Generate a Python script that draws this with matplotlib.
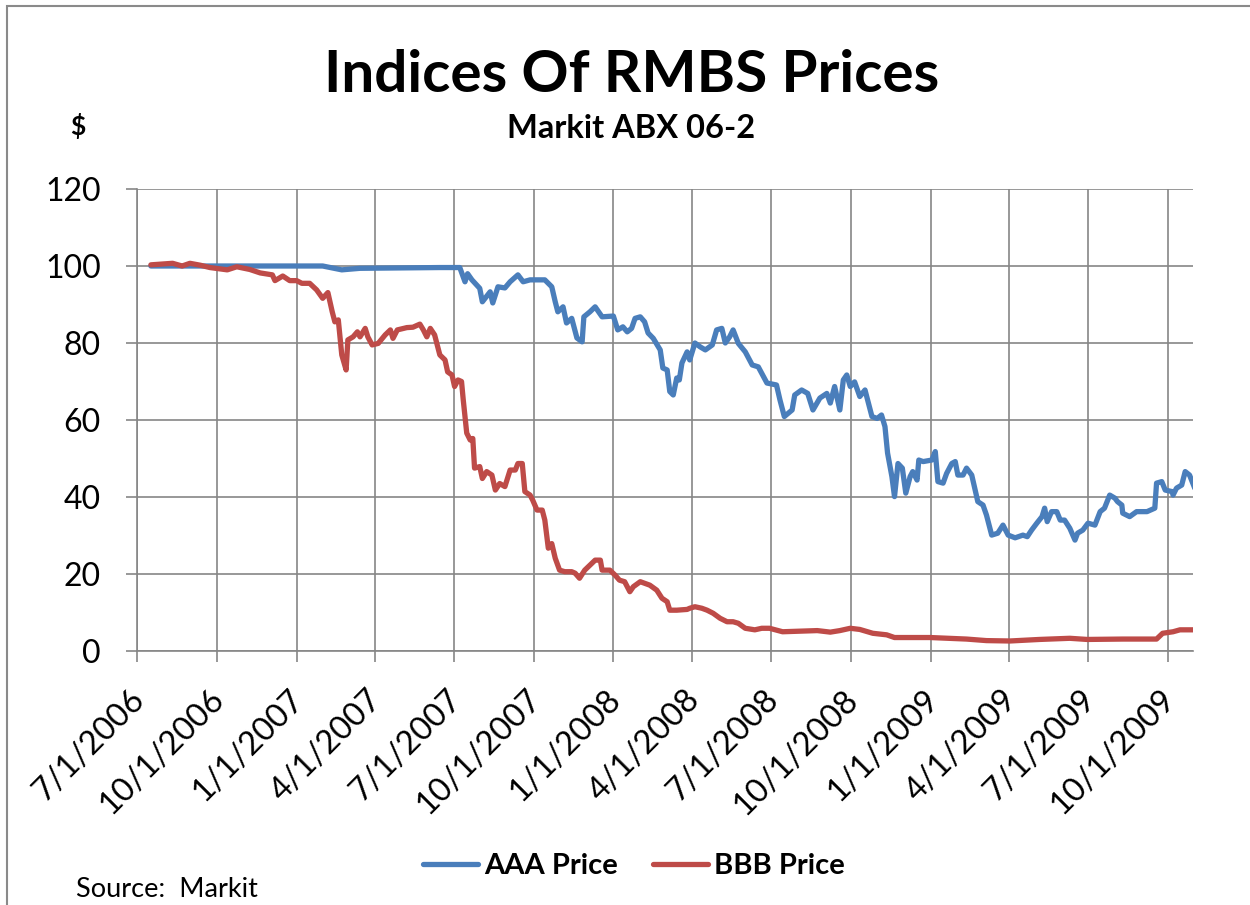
import datetime as dt
import matplotlib
matplotlib.use("Agg")
import matplotlib.pyplot as plt
import matplotlib.transforms as mtrans
from matplotlib.patches import Rectangle

plt.rcParams['font.family'] = ['Lato', 'DejaVu Sans']

# Markit ABX 06-2
aaa_dates = ["2006-07-17", "2007-01-31", "2007-02-22", "2007-03-15", "2007-04-30", "2007-06-15",
             "2007-07-08", "2007-07-14", "2007-07-17", "2007-07-22", "2007-07-31", "2007-08-03",
             "2007-08-12", "2007-08-15", "2007-08-21", "2007-08-29", "2007-09-04", "2007-09-13",
             "2007-09-19", "2007-09-27", "2007-10-14", "2007-10-22", "2007-10-26", "2007-10-29",
             "2007-11-04", "2007-11-08", "2007-11-14", "2007-11-20", "2007-11-26", "2007-11-28",
             "2007-12-05", "2007-12-11", "2007-12-19", "2008-01-01", "2008-01-06", "2008-01-12",
             "2008-01-17", "2008-01-22", "2008-01-26", "2008-02-01", "2008-02-06", "2008-02-10",
             "2008-02-16", "2008-02-24", "2008-02-27", "2008-03-03", "2008-03-06", "2008-03-10",
             "2008-03-14", "2008-03-17", "2008-03-20", "2008-03-26", "2008-03-29", "2008-04-04",
             "2008-04-10", "2008-04-16", "2008-04-24", "2008-04-29", "2008-05-05", "2008-05-09",
             "2008-05-14", "2008-05-18", "2008-05-24", "2008-06-01", "2008-06-09", "2008-06-16",
             "2008-06-20", "2008-06-26", "2008-07-07", "2008-07-11", "2008-07-16", "2008-07-25",
             "2008-07-28", "2008-08-05", "2008-08-12", "2008-08-18", "2008-08-26", "2008-09-03",
             "2008-09-07", "2008-09-12", "2008-09-18", "2008-09-22", "2008-09-26", "2008-09-30",
             "2008-10-05", "2008-10-11", "2008-10-17", "2008-10-20", "2008-10-25", "2008-10-31",
             "2008-11-05", "2008-11-09", "2008-11-12", "2008-11-17", "2008-11-20", "2008-11-24",
             "2008-11-29", "2008-12-03", "2008-12-08", "2008-12-11", "2008-12-16", "2008-12-18",
             "2008-12-23", "2009-01-02", "2009-01-06", "2009-01-09", "2009-01-15", "2009-01-19",
             "2009-01-25", "2009-01-29", "2009-02-01", "2009-02-07", "2009-02-11", "2009-02-17",
             "2009-02-24", "2009-03-02", "2009-03-06", "2009-03-12", "2009-03-19", "2009-03-25",
             "2009-03-31", "2009-04-08", "2009-04-17", "2009-04-22", "2009-04-27", "2009-05-03",
             "2009-05-09", "2009-05-12", "2009-05-15", "2009-05-20", "2009-05-26", "2009-05-30",
             "2009-06-04", "2009-06-10", "2009-06-16", "2009-06-19", "2009-06-25", "2009-07-01",
             "2009-07-09", "2009-07-15", "2009-07-20", "2009-07-26", "2009-08-01", "2009-08-04",
             "2009-08-09", "2009-08-10", "2009-08-18", "2009-08-26", "2009-09-07", "2009-09-16",
             "2009-09-18", "2009-09-24", "2009-09-28", "2009-10-06", "2009-10-07", "2009-10-11",
             "2009-10-17", "2009-10-21", "2009-10-26", "2009-11-01"]
aaa_price = [100.0, 100.0, 99.0, 99.4, 99.5, 99.6,
             99.6, 95.9, 98.0, 96.4, 94.2, 90.7,
             93.3, 90.4, 94.6, 94.3, 95.9, 97.7,
             95.9, 96.4, 96.4, 94.6, 90.7, 88.1,
             89.4, 85.2, 86.4, 81.3, 80.3, 86.8,
             88.1, 89.4, 86.8, 87.0, 83.4, 84.2,
             82.9, 83.8, 86.4, 86.8, 85.5, 82.6,
             81.2, 78.2, 73.5, 73.0, 67.4, 66.5,
             70.9, 70.4, 74.8, 77.7, 75.6, 80.0,
             79.0, 78.2, 79.5, 83.4, 83.8, 80.0,
             81.6, 83.4, 79.9, 77.7, 74.3, 73.8,
             72.1, 69.6, 69.1, 65.2, 60.9, 62.6,
             66.5, 67.8, 66.9, 62.6, 65.7, 66.9,
             64.4, 68.7, 62.6, 70.4, 71.7, 68.7,
             69.9, 66.1, 67.8, 65.2, 60.9, 60.4,
             61.3, 58.3, 51.4, 45.3, 40.1, 48.7,
             47.5, 41.0, 45.3, 46.6, 44.4, 49.6,
             49.2, 49.6, 51.8, 44.0, 43.6, 46.1,
             48.7, 49.2, 45.7, 45.7, 47.5, 45.7,
             38.8, 37.9, 35.3, 30.1, 30.6, 32.7,
             30.1, 29.4, 30.1, 29.7, 31.4, 33.2,
             34.9, 37.1, 33.6, 36.2, 36.2, 34.0,
             34.0, 31.9, 28.8, 30.6, 31.4, 33.2,
             32.7, 36.2, 37.1, 40.5, 39.7, 38.8,
             37.9, 35.8, 34.9, 36.2, 36.2, 37.1,
             43.6, 44.0, 41.8, 41.4, 40.5, 42.3,
             43.1, 46.6, 45.7, 42.3]

bbb_dates = ["2006-07-17", "2006-08-11", "2006-08-22", "2006-08-31", "2006-09-12", "2006-09-23",
             "2006-10-13", "2006-10-24", "2006-11-08", "2006-11-20", "2006-12-04", "2006-12-07",
             "2006-12-16", "2006-12-24", "2007-01-01", "2007-01-07", "2007-01-16", "2007-01-24",
             "2007-01-31", "2007-02-06", "2007-02-11", "2007-02-14", "2007-02-18", "2007-02-22",
             "2007-02-27", "2007-03-01", "2007-03-07", "2007-03-12", "2007-03-15", "2007-03-21",
             "2007-03-24", "2007-03-29", "2007-04-05", "2007-04-13", "2007-04-19", "2007-04-22",
             "2007-04-27", "2007-05-08", "2007-05-15", "2007-05-23", "2007-05-27", "2007-05-31",
             "2007-06-04", "2007-06-09", "2007-06-15", "2007-06-21", "2007-06-24", "2007-06-29",
             "2007-07-02", "2007-07-06", "2007-07-10", "2007-07-12", "2007-07-16", "2007-07-20",
             "2007-07-23", "2007-07-25", "2007-07-31", "2007-08-03", "2007-08-08", "2007-08-14",
             "2007-08-18", "2007-08-23", "2007-08-29", "2007-09-04", "2007-09-10", "2007-09-13",
             "2007-09-18", "2007-09-21", "2007-09-27", "2007-09-30", "2007-10-05", "2007-10-11",
             "2007-10-14", "2007-10-18", "2007-10-22", "2007-10-26", "2007-10-31", "2007-11-06",
             "2007-11-14", "2007-11-18", "2007-11-23", "2007-11-29", "2007-12-05", "2007-12-11",
             "2007-12-17", "2007-12-19", "2007-12-28", "2008-01-03", "2008-01-08", "2008-01-14",
             "2008-01-20", "2008-01-24", "2008-02-01", "2008-02-12", "2008-02-20", "2008-02-26",
             "2008-03-03", "2008-03-06", "2008-03-14", "2008-03-26", "2008-03-29", "2008-04-04",
             "2008-04-12", "2008-04-18", "2008-04-25", "2008-05-03", "2008-05-11", "2008-05-18",
             "2008-05-24", "2008-06-01", "2008-06-12", "2008-06-20", "2008-06-29", "2008-07-14",
             "2008-08-23", "2008-09-07", "2008-09-18", "2008-09-30", "2008-10-11", "2008-10-26",
             "2008-11-11", "2008-11-20", "2008-12-31", "2009-02-11", "2009-03-06", "2009-04-02",
             "2009-05-06", "2009-06-10", "2009-06-30", "2009-08-10", "2009-09-18", "2009-09-25",
             "2009-10-07", "2009-10-15", "2009-11-01"]
bbb_price = [100.3, 100.7, 100.0, 100.7, 100.2, 99.6,
             99.0, 99.8, 99.1, 98.2, 97.7, 96.2,
             97.4, 96.2, 96.2, 95.5, 95.5, 93.8,
             91.6, 93.1, 88.1, 85.5, 86.0, 76.9,
             73.0, 80.8, 81.6, 82.9, 81.6, 83.8,
             81.6, 79.5, 79.9, 82.1, 83.4, 81.2,
             83.4, 84.0, 84.1, 84.9, 83.4, 81.6,
             83.8, 82.1, 76.9, 75.6, 72.5, 71.7,
             68.7, 70.4, 70.0, 65.2, 56.6, 54.8,
             55.2, 47.5, 47.9, 44.8, 46.6, 45.7,
             41.8, 43.5, 42.7, 47.0, 47.0, 48.7,
             48.7, 41.4, 40.5, 39.2, 36.6, 36.6,
             34.0, 26.7, 27.9, 24.1, 21.0, 20.6,
             20.6, 20.2, 18.9, 21.0, 22.3, 23.6,
             23.6, 21.0, 21.0, 19.7, 18.4, 18.0,
             15.4, 16.7, 18.0, 17.1, 15.8, 13.7,
             12.8, 10.6, 10.6, 10.8, 11.1, 11.5,
             11.1, 10.6, 9.8, 8.5, 7.6, 7.6,
             7.2, 5.9, 5.5, 5.9, 5.9, 5.0,
             5.3, 4.9, 5.3, 5.9, 5.6, 4.6,
             4.2, 3.5, 3.5, 3.1, 2.7, 2.6,
             3.0, 3.3, 3.0, 3.1, 3.1, 4.6,
             5.0, 5.5, 5.5]

tick_dates = ["2006-07-01", "2006-10-01", "2007-01-01", "2007-04-01", "2007-07-01", "2007-10-01",
              "2008-01-01", "2008-04-01", "2008-07-01", "2008-10-01", "2009-01-01", "2009-04-01",
              "2009-07-01", "2009-10-01"]
y_ticks = [0, 20, 40, 60, 80, 100, 120]


def to_dates(lst):
    return [dt.datetime.strptime(s, "%Y-%m-%d") for s in lst]


grid_c = '#868686'

fig = plt.figure(figsize=(12.5, 9.05), dpi=100)
ax = fig.add_axes([137/1250, 1-651/905, (1193-137)/1250, (651-189)/905])

ax.plot(to_dates(aaa_dates), aaa_price, color='#4A7EBB', lw=3.8, label='AAA Price',
        solid_joinstyle='round', solid_capstyle='round', zorder=3)
ax.plot(to_dates(bbb_dates), bbb_price, color='#BE4B48', lw=3.8, label='BBB Price',
        solid_joinstyle='round', solid_capstyle='round', zorder=4)

ax.set_ylim(0, 120)
ax.set_yticks(y_ticks)
ticks = to_dates(tick_dates)
ax.set_xlim(ticks[0], dt.datetime(2009, 10, 30))
ax.set_xticks(ticks)
ax.set_xticklabels([f"{d.month}/{d.day}/{d.year}" for d in ticks])

ax.grid(True, color=grid_c, lw=1.2)
ax.set_axisbelow(True)
for s in ['top', 'right']:
    ax.spines[s].set_visible(False)
for s in ['left', 'bottom']:
    ax.spines[s].set_color(grid_c)
    ax.spines[s].set_linewidth(1.2)
ax.tick_params(axis='both', direction='out', length=8, width=1.2, color=grid_c)
ax.tick_params(axis='y', labelsize=23, pad=18)
ax.tick_params(axis='x', labelsize=23.5, pad=16)
shift = mtrans.ScaledTranslation(-8/100, 0, fig.dpi_scale_trans)
for lab in ax.get_xticklabels():
    lab.set_rotation(45)
    lab.set_ha('right')
    lab.set_va('top')
    lab.set_rotation_mode('anchor')
    lab.set_transform(lab.get_transform() + shift)

fig.text(632/1250, 1-92/905, 'Indices Of RMBS Prices', ha='center', va='baseline',
         fontsize=42, fontweight='bold')
fig.text(631/1250, 1-138/905, 'Markit ABX 06-2', ha='center', va='baseline',
         fontsize=23.5, fontweight='bold')
fig.text(70/1250, 1-135/905, '$', ha='left', va='baseline', fontsize=19, fontweight='bold')
fig.text(76/1250, 1-897/905, 'Source:  Markit', ha='left', va='baseline', fontsize=19.5)

fig.legend(loc='center', bbox_to_anchor=(634/1250, 1-866/905), ncol=2, frameon=False,
           prop={'size': 21, 'weight': 'bold'}, handlelength=1.9, handletextpad=0.2,
           columnspacing=1.2)

fig.add_artist(Rectangle((7/1250, -0.5), 2, 0.5 + 1-6/905, transform=fig.transFigure,
                         fill=False, edgecolor='#8a8a8a', lw=1.5))

fig.savefig('out.png', dpi=100)
